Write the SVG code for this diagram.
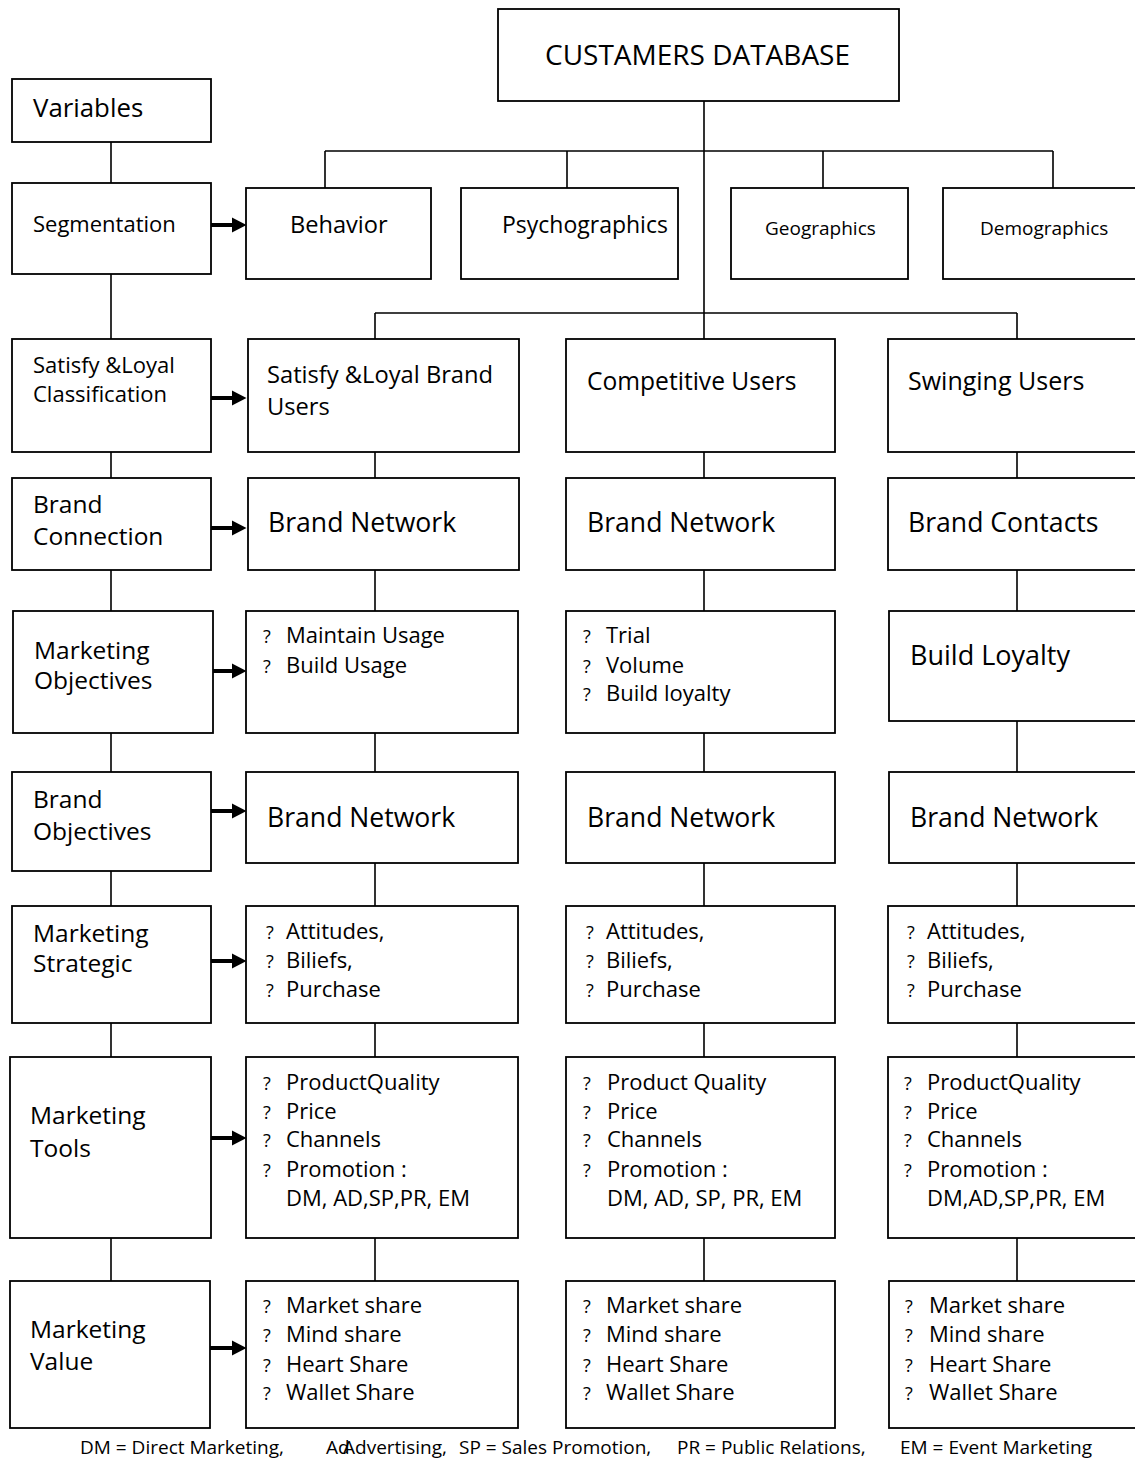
<svg xmlns="http://www.w3.org/2000/svg" width="1135" height="1461" viewBox="0 0 1135 1461">
<style>
.box{fill:#fff;stroke:#000;stroke-width:1.8}
.c{stroke:#000;stroke-width:1.6;fill:none}
.ar{stroke:#000;stroke-width:4;fill:none}
text{font-family:"Open Sans","Noto Sans","Liberation Sans",sans-serif;fill:#000}
.l{font-size:24.5px}
.s{font-size:22px}
.bn{font-size:26.6px}
.q{font-size:18px}
.f{font-size:19px}
</style>
<defs>
<marker id="ah" markerUnits="userSpaceOnUse" markerWidth="15" markerHeight="16" refX="0" refY="8" orient="auto">
<path d="M0,0.5 L14.5,8 L0,15.5 z" fill="#000"/>
</marker>
</defs>
<rect width="1135" height="1461" fill="#fff"/>

<g id="connectors">
<path class="c" d="M111,142V183 M111,274V339 M111,452V478 M111,570V611 M111,733V772 M111,871V906 M111,1023V1057 M111,1238V1281"/>
<path class="c" d="M704,101V339 M325,151H1053 M325,151V188 M567,151V188 M823,151V188 M1053,151V188"/>
<path class="c" d="M375,313H1017 M375,313V339 M1017,313V339"/>
<path class="c" d="M375,452V478 M375,570V611 M375,733V772 M375,863V906 M375,1023V1057 M375,1238V1281"/>
<path class="c" d="M704,452V478 M704,570V611 M704,733V772 M704,863V906 M704,1023V1057 M704,1238V1281"/>
<path class="c" d="M1017,452V478 M1017,570V611 M1017,721V772 M1017,863V906 M1017,1023V1057 M1017,1238V1281"/>
<g marker-end="url(#ah)">
<line class="ar" x1="211" y1="225" x2="232" y2="225"/>
<line class="ar" x1="211" y1="398" x2="232" y2="398"/>
<line class="ar" x1="211" y1="528" x2="232" y2="528"/>
<line class="ar" x1="213" y1="671" x2="232" y2="671"/>
<line class="ar" x1="211" y1="811" x2="232" y2="811"/>
<line class="ar" x1="211" y1="961" x2="232" y2="961"/>
<line class="ar" x1="211" y1="1138" x2="232" y2="1138"/>
<line class="ar" x1="210" y1="1348" x2="232" y2="1348"/>
</g>
</g>

<g id="n_database"><rect class="box" x="498" y="9" width="401" height="92"/><text x="545" y="65" style="font-size:28px">CUSTAMERS DATABASE</text></g>

<g id="n_variables"><rect class="box" x="12" y="79" width="199" height="63"/><text x="33" y="117" style="font-size:25.8px">Variables</text></g>
<g id="n_segmentation"><rect class="box" x="12" y="183" width="199" height="91"/><text x="33" y="232" class="s">Segmentation</text></g>
<g id="n_satisfy_class"><rect class="box" x="12" y="339" width="199" height="113"/><text x="33" y="373" class="s">Satisfy &amp;Loyal</text><text x="33" y="402" class="s">Classification</text></g>
<g id="n_brand_connection"><rect class="box" x="12" y="478" width="199" height="92"/><text x="33" y="513" class="l">Brand</text><text x="33" y="545" class="l">Connection</text></g>
<g id="n_mkt_objectives"><rect class="box" x="13" y="611" width="200" height="122"/><text x="34" y="659" class="l">Marketing</text><text x="34" y="689" class="l">Objectives</text></g>
<g id="n_brand_objectives"><rect class="box" x="12" y="772" width="199" height="99"/><text x="33" y="808" class="l">Brand</text><text x="33" y="840" class="l">Objectives</text></g>
<g id="n_mkt_strategic"><rect class="box" x="12" y="906" width="199" height="117"/><text x="33" y="942" class="l">Marketing</text><text x="33" y="972" class="l">Strategic</text></g>
<g id="n_mkt_tools"><rect class="box" x="10" y="1057" width="201" height="181"/><text x="30" y="1124" class="l">Marketing</text><text x="30" y="1157" class="l">Tools</text></g>
<g id="n_mkt_value"><rect class="box" x="10" y="1281" width="200" height="147"/><text x="30" y="1338" class="l">Marketing</text><text x="30" y="1370" class="l">Value</text></g>

<g id="n_behavior"><rect class="box" x="246" y="188" width="185" height="91"/><text x="290" y="233" style="font-size:23.6px">Behavior</text></g>
<g id="n_psychographics"><rect class="box" x="461" y="188" width="217" height="91"/><text x="502" y="233" style="font-size:23px">Psychographics</text></g>
<g id="n_geographics"><rect class="box" x="731" y="188" width="177" height="91"/><text x="765" y="235" style="font-size:19px">Geographics</text></g>
<g id="n_demographics"><rect class="box" x="943" y="188" width="200" height="91"/><text x="980" y="235" style="font-size:19px">Demographics</text></g>

<g id="n_loyal_users"><rect class="box" x="248" y="339" width="271" height="113"/><text x="267" y="383" style="font-size:23.7px">Satisfy &amp;Loyal Brand</text><text x="267" y="415" style="font-size:23.7px">Users</text></g>
<g id="n_competitive_users"><rect class="box" x="566" y="339" width="269" height="113"/><text x="587" y="390" style="font-size:24.6px">Competitive Users</text></g>
<g id="n_swinging_users"><rect class="box" x="888" y="339" width="260" height="113"/><text x="908" y="390" style="font-size:25px">Swinging Users</text></g>

<g id="n_c2_connection"><rect class="box" x="248" y="478" width="271" height="92"/><text x="268" y="532" class="bn">Brand Network</text></g>
<g id="n_c3_connection"><rect class="box" x="566" y="478" width="269" height="92"/><text x="587" y="532" class="bn">Brand Network</text></g>
<g id="n_c4_connection"><rect class="box" x="888" y="478" width="260" height="92"/><text x="908" y="532" class="bn">Brand Contacts</text></g>

<g id="n_c2_mobj"><rect class="box" x="246" y="611" width="272" height="122"/>
<text x="263" y="643" class="q">?</text><text x="286" y="643" class="s">Maintain Usage</text>
<text x="263" y="673" class="q">?</text><text x="286" y="673" class="s">Build Usage</text></g>
<g id="n_c3_mobj"><rect class="box" x="566" y="611" width="269" height="122"/>
<text x="583" y="643" class="q">?</text><text x="606" y="643" class="s">Trial</text>
<text x="583" y="673" class="q">?</text><text x="606" y="673" class="s">Volume</text>
<text x="583" y="701" class="q">?</text><text x="606" y="701" class="s">Build loyalty</text></g>
<g id="n_c4_mobj"><rect class="box" x="889" y="611" width="260" height="110"/><text x="910" y="665" style="font-size:27px">Build Loyalty</text></g>

<g id="n_c2_bobj"><rect class="box" x="246" y="772" width="272" height="91"/><text x="267" y="827" class="bn">Brand Network</text></g>
<g id="n_c3_bobj"><rect class="box" x="566" y="772" width="269" height="91"/><text x="587" y="827" class="bn">Brand Network</text></g>
<g id="n_c4_bobj"><rect class="box" x="889" y="772" width="260" height="91"/><text x="910" y="827" class="bn">Brand Network</text></g>

<g id="n_c2_strat"><rect class="box" x="246" y="906" width="272" height="117"/>
<text x="266" y="939" class="q">?</text><text x="286" y="939" class="s">Attitudes,</text>
<text x="266" y="968" class="q">?</text><text x="286" y="968" class="s">Biliefs,</text>
<text x="266" y="997" class="q">?</text><text x="286" y="997" class="s">Purchase</text></g>
<g id="n_c3_strat"><rect class="box" x="566" y="906" width="269" height="117"/>
<text x="586" y="939" class="q">?</text><text x="606" y="939" class="s">Attitudes,</text>
<text x="586" y="968" class="q">?</text><text x="606" y="968" class="s">Biliefs,</text>
<text x="586" y="997" class="q">?</text><text x="606" y="997" class="s">Purchase</text></g>
<g id="n_c4_strat"><rect class="box" x="888" y="906" width="260" height="117"/>
<text x="907" y="939" class="q">?</text><text x="927" y="939" class="s">Attitudes,</text>
<text x="907" y="968" class="q">?</text><text x="927" y="968" class="s">Biliefs,</text>
<text x="907" y="997" class="q">?</text><text x="927" y="997" class="s">Purchase</text></g>

<g id="n_c2_tools"><rect class="box" x="246" y="1057" width="272" height="181"/>
<text x="263" y="1090" class="q">?</text><text x="286" y="1090" class="s">ProductQuality</text>
<text x="263" y="1119" class="q">?</text><text x="286" y="1119" class="s">Price</text>
<text x="263" y="1147" class="q">?</text><text x="286" y="1147" class="s">Channels</text>
<text x="263" y="1177" class="q">?</text><text x="286" y="1177" class="s">Promotion :</text>
<text x="286" y="1206" class="s">DM, AD,SP,PR, EM</text></g>
<g id="n_c3_tools"><rect class="box" x="566" y="1057" width="269" height="181"/>
<text x="583" y="1090" class="q">?</text><text x="607" y="1090" class="s">Product Quality</text>
<text x="583" y="1119" class="q">?</text><text x="607" y="1119" class="s">Price</text>
<text x="583" y="1147" class="q">?</text><text x="607" y="1147" class="s">Channels</text>
<text x="583" y="1177" class="q">?</text><text x="607" y="1177" class="s">Promotion :</text>
<text x="607" y="1206" class="s">DM, AD, SP, PR, EM</text></g>
<g id="n_c4_tools"><rect class="box" x="888" y="1057" width="260" height="181"/>
<text x="904" y="1090" class="q">?</text><text x="927" y="1090" class="s">ProductQuality</text>
<text x="904" y="1119" class="q">?</text><text x="927" y="1119" class="s">Price</text>
<text x="904" y="1147" class="q">?</text><text x="927" y="1147" class="s">Channels</text>
<text x="904" y="1177" class="q">?</text><text x="927" y="1177" class="s">Promotion :</text>
<text x="927" y="1206" class="s">DM,AD,SP,PR, EM</text></g>

<g id="n_c2_value"><rect class="box" x="246" y="1281" width="272" height="147"/>
<text x="263" y="1313" class="q">?</text><text x="286" y="1313" class="s">Market share</text>
<text x="263" y="1342" class="q">?</text><text x="286" y="1342" class="s">Mind share</text>
<text x="263" y="1372" class="q">?</text><text x="286" y="1372" class="s">Heart Share</text>
<text x="263" y="1400" class="q">?</text><text x="286" y="1400" class="s">Wallet Share</text></g>
<g id="n_c3_value"><rect class="box" x="566" y="1281" width="269" height="147"/>
<text x="583" y="1313" class="q">?</text><text x="606" y="1313" class="s">Market share</text>
<text x="583" y="1342" class="q">?</text><text x="606" y="1342" class="s">Mind share</text>
<text x="583" y="1372" class="q">?</text><text x="606" y="1372" class="s">Heart Share</text>
<text x="583" y="1400" class="q">?</text><text x="606" y="1400" class="s">Wallet Share</text></g>
<g id="n_c4_value"><rect class="box" x="889" y="1281" width="260" height="147"/>
<text x="905" y="1313" class="q">?</text><text x="929" y="1313" class="s">Market share</text>
<text x="905" y="1342" class="q">?</text><text x="929" y="1342" class="s">Mind share</text>
<text x="905" y="1372" class="q">?</text><text x="929" y="1372" class="s">Heart Share</text>
<text x="905" y="1400" class="q">?</text><text x="929" y="1400" class="s">Wallet Share</text></g>

<g id="footer">
<text x="80" y="1454" class="f">DM = Direct Marketing,</text>
<text x="326" y="1454" class="f">Ad</text>
<text x="343" y="1454" class="f">Advertising,</text>
<text x="459" y="1454" class="f">SP = Sales Promotion,</text>
<text x="677" y="1454" class="f">PR = Public Relations,</text>
<text x="900" y="1454" class="f">EM = Event Marketing</text>
</g>
</svg>
